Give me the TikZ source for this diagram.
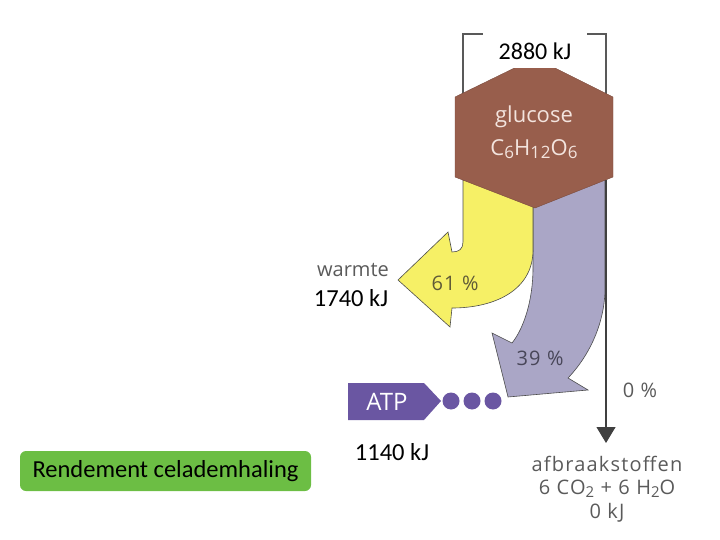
\documentclass[tikz,border=0pt]{standalone}
\usepackage{fontspec}
\setmainfont{Carlito}
\newfontfamily\diag{Open Sans}
\newfontfamily\diagwide[LetterSpace=6]{Open Sans}
\usetikzlibrary{arrows.meta}
\definecolor{hexbrown}{RGB}{152,94,76}
\definecolor{hextext}{RGB}{243,228,222}
\definecolor{warmyellow}{RGB}{246,240,102}
\definecolor{lilac}{RGB}{170,166,198}
\definecolor{atppurple}{RGB}{106,86,162}
\definecolor{boxgreen}{RGB}{108,190,68}
\definecolor{labelgray}{RGB}{90,90,90}
\definecolor{pctolive}{RGB}{95,90,55}
\definecolor{pctlilac}{RGB}{72,70,88}
\tikzset{
  kjlabel/.style={font=\fontsize{24.5}{28}\selectfont, text=black, inner sep=1pt},
  diaglabel/.style={font=\diagwide\fontsize{20}{23.5}\selectfont, text=labelgray, inner sep=1pt},
  flowedge/.style={draw=black!70, line width=0.6pt},
  bracketline/.style={draw=black!65, line width=1.1pt},
  atpdot/.style={circle, fill=atppurple, minimum size=17pt, inner sep=0pt},
}
\begin{document}
\begin{tikzpicture}[x=1pt,y=-1pt]
\useasboundingbox (0,0) rectangle (720,540);
% lilac (39 %) arrow
\path[fill=lilac, flowedge] (533,180) -- (533,268)
  .. controls (533,300) and (524,328) .. (512,343)
  -- (492,333) -- (508,397) -- (588,390) -- (568,378)
  .. controls (590,355) and (605,322) .. (605,288)
  -- (605,180) -- cycle;
% yellow (61 %) arrow
\path[fill=warmyellow, flowedge] (463,180) -- (463,242)
  .. controls (463,249) and (459,252) .. (452,252)
  -- (448,232) -- (398,280) -- (450,327) -- (452,308)
  .. controls (495,308) and (533,290) .. (533,250)
  -- (533,180) -- cycle;
% bracket
\draw[bracketline] (483,34) -- (463,34) -- (463,100);
\draw[bracketline] (587,34) -- (606,34) -- (606,100);
% 0 % flow line
\coordinate (zerostart) at (606,180);
% glucose hexagon
\path[fill=hexbrown, draw=hexbrown!80!black, line width=0.4pt]
  (455,97) -- (535,58) -- (613,97) -- (613,177) -- (535,208) -- (455,177) -- cycle;
\node[font=\diag\fontsize{22}{26}\selectfont, text=hextext] (glucose) at (534,117) {glucose};
\node[font=\diagwide\fontsize{22}{26}\selectfont, text=hextext] (formula) at (534,149)
  {C{\fontsize{17}{20}\selectfont\raisebox{-0.3ex}{6}}H{\fontsize{17}{20}\selectfont\raisebox{-0.3ex}{12}}O{\fontsize{17}{20}\selectfont\raisebox{-0.3ex}{6}}};
\node[kjlabel, fill=white, minimum width=104pt, minimum height=34pt, font=\fontsize{24}{28}\selectfont] (total) at (535,51) {2880 kJ};
% labels
\node[diaglabel, font=\diag\fontsize{20}{23.5}\selectfont] (warmte) at (353,270) {warmte};
\node[kjlabel] (warmtekj) at (351,298) {1740 kJ};
\node[diaglabel, text=pctolive] (p61) at (455,283) {61 \%};
\node[diaglabel, text=pctlilac] (p39) at (540,358) {39 \%};
\node[diaglabel] (p0) at (640,390) {0 \%};
% ATP
\path[fill=atppurple] (348,383) -- (424,383) -- (441,401) -- (424,420) -- (348,420) -- cycle;
\node[font=\diag\fontsize{24}{28}\selectfont, text=white] (atp) at (387,402) {ATP};
\node[atpdot] (d1) at (451,401) {};
\node[atpdot] (d2) at (472,401) {};
\node[atpdot] (d3) at (493,401) {};
\node[kjlabel] (atpkj) at (392,452) {1140 kJ};
% end products
\node[diaglabel, align=center, font=\diagwide\fontsize{20}{23.5}\selectfont] (afbraak) at (607,489)
  {afbraakstoffen\\6 CO{\fontsize{15}{18}\selectfont\raisebox{-0.3ex}{2}} + 6 H{\fontsize{15}{18}\selectfont\raisebox{-0.3ex}{2}}O\\0 kJ};
\coordinate (zeroend) at (606,443);
\draw[draw=black!75, line width=1.2pt, -{Triangle[width=19pt,length=16pt]}] (zerostart) -- (zeroend);
% title box
\node[fill=boxgreen, rounded corners=6pt, minimum width=291pt, minimum height=40pt,
  font=\fontsize{24.5}{28}\selectfont] (title) at (165.5,471) {Rendement celademhaling};
\end{tikzpicture}
\end{document}
